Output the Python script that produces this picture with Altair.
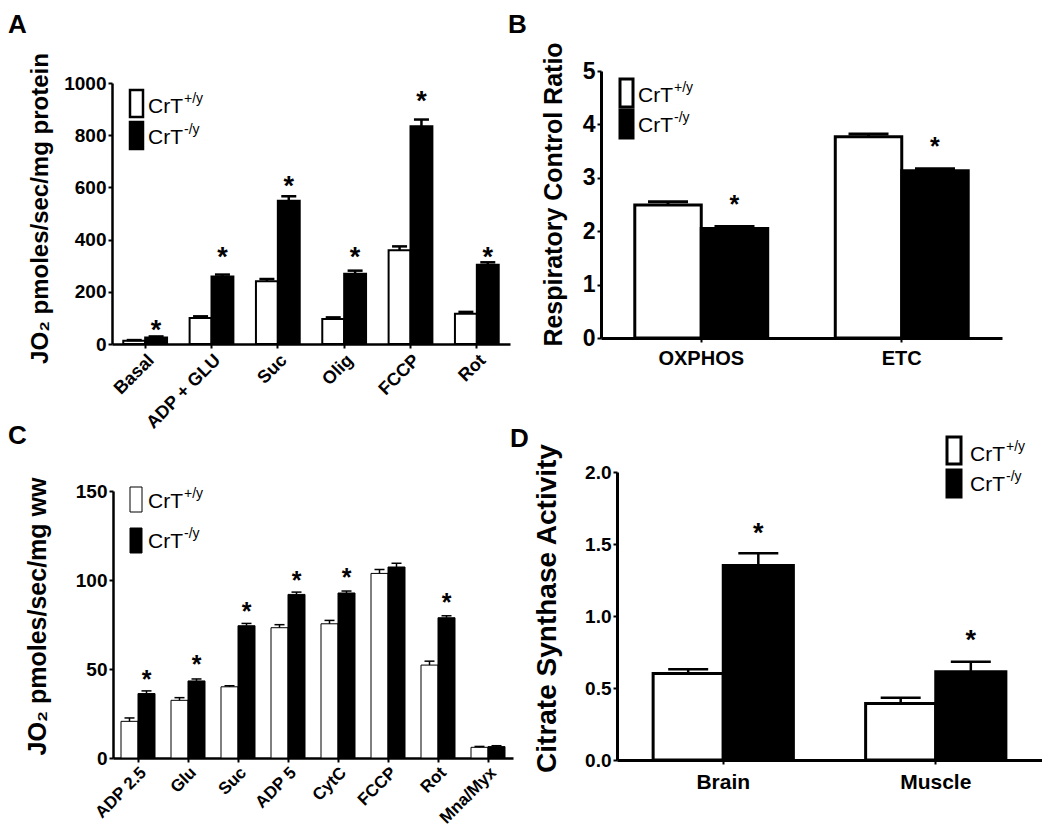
import altair as alt
import pandas as pd

FONT = "Liberation Sans"
W, H = 1034, 821
GROUPS = ["CrT+/y", "CrT-/y"]

# ---------------- Panel A ----------------
a_cats = ["Basal", "ADP + GLU", "Suc", "Olig", "FCCP", "Rot"]
a_wt = [12, 100, 240, 96, 359, 116]
a_wt_err = [3, 6, 9, 6, 15, 7]
a_ko = [25, 259, 549, 269, 834, 304]
a_ko_err = [4, 7, 17, 12, 26, 9]
a_star_cats = ["Basal", "ADP + GLU", "Suc", "Olig", "FCCP", "Rot"]
a_star_y = [80, 359, 630, 359, 955, 359]
a_ticks = [0, 200, 400, 600, 800, 1000]

# ---------------- Panel B ----------------
b_cats = ["OXPHOS", "ETC"]
b_wt = [2.49, 3.77]
b_wt_err = [0.06, 0.05]
b_ko = [2.05, 3.13]
b_ko_err = [0.04, 0.04]
b_star_cats = ["OXPHOS", "ETC"]
b_star_y = [2.62, 3.70]
b_ticks = [0, 1, 2, 3, 4, 5]

# ---------------- Panel C ----------------
c_cats = ["ADP 2.5", "Glu", "Suc", "ADP 5", "CytC", "FCCP", "Rot", "Mna/Myx"]
c_wt = [20.6, 32.4, 40.0, 73.2, 75.4, 103.7, 52.2, 6.0]
c_wt_err = [1.9, 1.5, 0.6, 1.7, 1.9, 2.2, 2.2, 0.5]
c_ko = [36.2, 43.3, 74.3, 91.9, 92.7, 107.3, 78.8, 6.4]
c_ko_err = [1.5, 1.1, 1.3, 1.3, 1.1, 2.1, 1.1, 0.5]
c_star_cats = ["ADP 2.5", "Glu", "Suc", "ADP 5", "CytC", "Rot"]
c_star_y = [47.5, 56, 85.5, 103, 105, 91]
c_ticks = [0, 50, 100, 150]

# ---------------- Panel D ----------------
d_cats = ["Brain", "Muscle"]
d_wt = [0.60, 0.393]
d_wt_err = [0.03, 0.04]
d_ko = [1.35, 0.613]
d_ko_err = [0.085, 0.07]
d_star_cats = ["Brain", "Muscle"]
d_star_y = [1.62, 0.88]
d_ticks = [0, 0.5, 1.0, 1.5, 2.0]


def panel(cats, wt, wt_err, ko, ko_err, star_cats, star_y, ticks, *, ymax, fmt,
          xr, yr, pad_inner, bar_sw, cap_w, rule_w, star_fs, ytitle, ytitle_fs,
          title_xy, ylab_fs, xlab_fs, xlab_angle, xlab_pad, dom_w, tick_w=2, tick_size=5):
    n = len(cats)
    bars = pd.DataFrame({
        "cat": cats + cats,
        "grp": [GROUPS[0]] * n + [GROUPS[1]] * n,
        "val": wt + ko,
        "err": wt_err + ko_err,
    })
    bars["top"] = bars["val"] + bars["err"]
    stars = pd.DataFrame({"cat": star_cats, "grp": [GROUPS[1]] * len(star_cats), "sy": star_y})

    def xsc():
        return alt.Scale(domain=cats, range=xr, paddingInner=pad_inner, paddingOuter=pad_inner / 2)

    def ysc():
        return alt.Scale(domain=[0, ymax], range=yr, nice=False, zero=True)

    def xo():
        return alt.XOffset("grp:N", scale=alt.Scale(domain=GROUPS), sort=GROUPS)

    x_axis = alt.Axis(
        orient="bottom", offset=yr[0] - H, title=None, labelAngle=xlab_angle,
        labelFont=FONT, labelFontSize=xlab_fs, labelFontWeight="bold", labelColor="black",
        labelPadding=xlab_pad, labelOverlap=False, labelLimit=400, domainColor="black",
        domainWidth=dom_w, tickColor="black", tickWidth=tick_w, tickSize=tick_size, grid=False,
    )
    y_axis = alt.Axis(
        orient="left", offset=-xr[0], values=ticks, format=fmt, title=ytitle,
        titleX=title_xy[0] - xr[0], titleY=title_xy[1], titleAngle=270,
        titleAlign="center", titleBaseline="middle", titleFont=FONT,
        titleFontSize=ytitle_fs, titleFontWeight="bold", titleColor="black", titleLimit=600,
        labelFont=FONT, labelFontSize=ylab_fs, labelFontWeight="bold", labelColor="black",
        labelPadding=2, labelOverlap=False, domainColor="black", domainWidth=dom_w,
        tickColor="black", tickWidth=tick_w, tickSize=tick_size, grid=False,
    )

    fill = alt.Fill("grp:N", scale=alt.Scale(domain=GROUPS, range=["white", "black"]), legend=None)

    bar_layer = alt.Chart(bars).mark_bar(stroke="black", strokeWidth=bar_sw).encode(
        x=alt.X("cat:N", scale=xsc(), sort=cats, axis=x_axis),
        xOffset=xo(),
        y=alt.Y("val:Q", scale=ysc(), axis=y_axis),
        fill=fill,
    )
    err_layer = alt.Chart(bars).mark_rule(color="black", strokeWidth=rule_w, opacity=1).encode(
        x=alt.X("cat:N", scale=xsc(), sort=cats, axis=None),
        xOffset=xo(),
        y=alt.Y("val:Q", scale=ysc(), axis=None),
        y2="top:Q",
    )
    cap_layer = alt.Chart(bars).mark_tick(color="black", thickness=rule_w, size=cap_w,
                                          opacity=1).encode(
        x=alt.X("cat:N", scale=xsc(), sort=cats, axis=None),
        xOffset=xo(),
        y=alt.Y("top:Q", scale=ysc(), axis=None),
    )
    star_layer = alt.Chart(stars).mark_text(
        text="*", font=FONT, fontSize=star_fs, fontWeight="bold", color="black",
        baseline="alphabetic", dy=0.58 * star_fs,
    ).encode(
        x=alt.X("cat:N", scale=xsc(), sort=cats, axis=None),
        xOffset=xo(),
        y=alt.Y("sy:Q", scale=ysc(), axis=None),
    )
    return [bar_layer, err_layer, cap_layer, star_layer]


ONE = pd.DataFrame({"k": [0]})


def legend(rx, rw, ry1, ry2, rh, tx, tb1, tb2, fs, sup_fs, sup_dy, sw):
    base = alt.Chart(ONE)
    r1 = base.mark_rect(fill="white", stroke="black", strokeWidth=sw).encode(
        x=alt.value(rx), x2=alt.value(rx + rw), y=alt.value(ry1), y2=alt.value(ry1 + rh))
    r2 = base.mark_rect(fill="black", stroke="black", strokeWidth=sw).encode(
        x=alt.value(rx), x2=alt.value(rx + rw), y=alt.value(ry2), y2=alt.value(ry2 + rh))
    sx = tx + 1.666 * fs + 1
    t1 = base.mark_text(text="CrT", font=FONT, fontSize=fs, align="left", baseline="alphabetic",
                        color="black").encode(x=alt.value(tx), y=alt.value(tb1))
    s1 = base.mark_text(text="+/y", font=FONT, fontSize=sup_fs, align="left", baseline="alphabetic",
                        color="black").encode(x=alt.value(sx), y=alt.value(tb1 - sup_dy))
    t2 = base.mark_text(text="CrT", font=FONT, fontSize=fs, align="left", baseline="alphabetic",
                        color="black").encode(x=alt.value(tx), y=alt.value(tb2))
    s2 = base.mark_text(text="-/y", font=FONT, fontSize=sup_fs, align="left", baseline="alphabetic",
                        color="black").encode(x=alt.value(sx), y=alt.value(tb2 - sup_dy))
    return [r1, r2, t1, s1, t2, s2]


def letter(txt, x, y):
    return alt.Chart(ONE).mark_text(text=txt, font=FONT, fontSize=26, fontWeight="bold",
                                    align="left", baseline="top", color="black").encode(
        x=alt.value(x), y=alt.value(y))


pA = panel(a_cats, a_wt, a_wt_err, a_ko, a_ko_err, a_star_cats, a_star_y, a_ticks,
           ymax=1000, fmt="d", xr=[104, 502], yr=[336, 75], pad_inner=0.34, bar_sw=2,
           cap_w=15, rule_w=2.5, star_fs=27, ytitle="JO\u2082 pmoles/sec/mg protein",
           ytitle_fs=24, title_xy=(32, 200), ylab_fs=19, xlab_fs=18, xlab_angle=-45,
           xlab_pad=3, dom_w=2.5, tick_size=4)
pB = panel(b_cats, b_wt, b_wt_err, b_ko, b_ko_err, b_star_cats, b_star_y, b_ticks,
           ymax=5, fmt="d", xr=[593, 994], yr=[330, 63], pad_inner=0.337, bar_sw=3,
           cap_w=40, rule_w=3, star_fs=25, ytitle="Respiratory Control Ratio",
           ytitle_fs=25, title_xy=(545, 186), ylab_fs=23, xlab_fs=20, xlab_angle=0,
           xlab_pad=6, dom_w=3, tick_size=4)
pC = panel(c_cats, c_wt, c_wt_err, c_ko, c_ko_err, c_star_cats, c_star_y, c_ticks,
           ymax=150, fmt="d", xr=[105, 505], yr=[750, 483], pad_inner=0.32, bar_sw=1,
           cap_w=10, rule_w=1.5, star_fs=25, ytitle="JO\u2082 pmoles/sec/mg ww",
           ytitle_fs=25, title_xy=(29, 608), ylab_fs=19, xlab_fs=17, xlab_angle=-45,
           xlab_pad=2, dom_w=2.5, tick_size=4)
pD = panel(d_cats, d_wt, d_wt_err, d_ko, d_ko_err, d_star_cats, d_star_y, d_ticks,
           ymax=2.0, fmt=".1f", xr=[609, 1034], yr=[752, 464], pad_inner=0.34, bar_sw=3,
           cap_w=40, rule_w=2.5, star_fs=27, ytitle="Citrate Synthase Activity",
           ytitle_fs=28, title_xy=(539, 600), ylab_fs=19, xlab_fs=21, xlab_angle=0,
           xlab_pad=7, dom_w=3, tick_size=4)

legA = legend(122, 13, 82, 114, 27, 140, 105, 136, 21, 14, 10, 2.5)
legB = legend(612, 13, 71, 102, 28, 630, 94, 124, 21, 14, 10, 3)
legC = legend(122, 12, 479, 520, 25, 140, 500, 540, 21, 14, 10, 1)
legD = legend(939, 14, 429, 462, 27, 962, 453, 483, 21, 14, 10, 3)

layers = pA + pB + pC + pD + legA + legB + legC + legD + [
    letter("A", 0, 4), letter("B", 500, 4), letter("C", 0, 415), letter("D", 502, 418)
]

chart = alt.layer(*layers).resolve_scale(
    x="independent", y="independent", xOffset="independent"
).properties(
    width=W, height=H, padding=0, autosize=alt.AutoSizeParams(type="none"),
    background="white",
).configure_view(strokeWidth=0)

chart.save("out.html", embed_options={"renderer": "svg", "actions": False})
